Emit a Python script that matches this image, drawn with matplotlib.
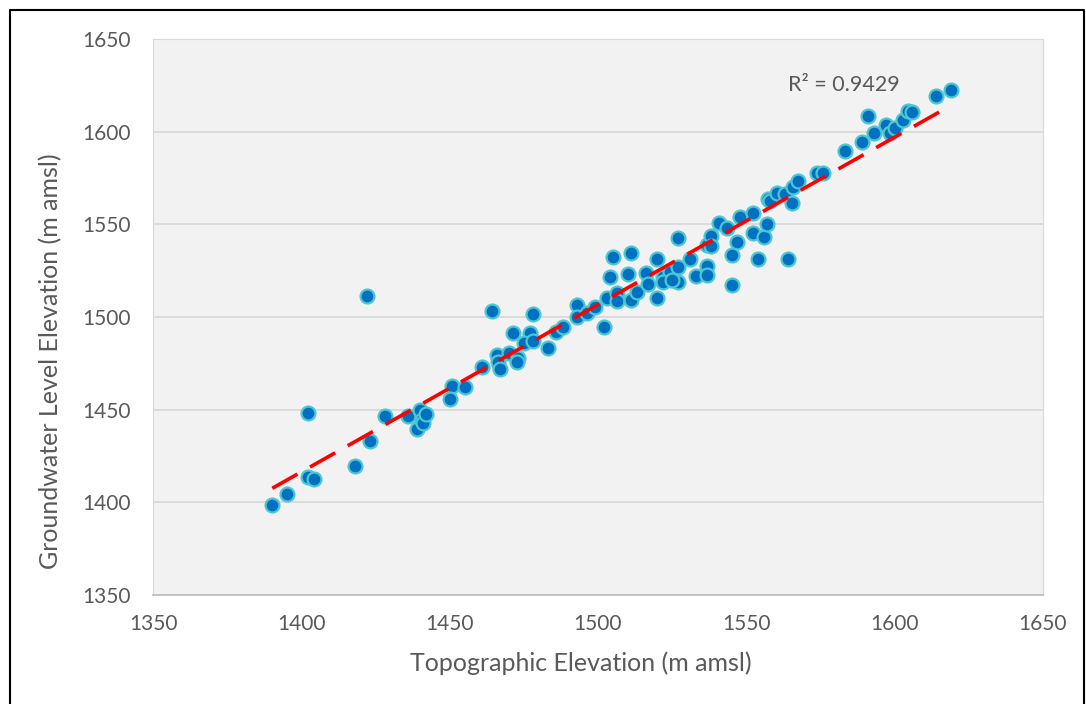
import numpy as np
import matplotlib.pyplot as plt
from matplotlib.lines import Line2D

plt.rcParams['font.family'] = ['Lato', 'DejaVu Sans']

# topographic elevation (m amsl)
topo = [1390.2, 1395.2, 1402.1, 1402.1, 1404.2, 1422.0, 1418.1, 1423.0, 1428.2, 1436.0,
        1439.9, 1439.0, 1440.6, 1441.1, 1442.1, 1450.7, 1450.1, 1455.2, 1461.0, 1464.2,
        1466.0, 1466.4, 1467.0, 1470.1, 1473.1, 1472.8, 1471.2, 1477.1, 1475.0, 1478.2,
        1478.2, 1483.0, 1485.8, 1488.3, 1492.8, 1492.8, 1496.2, 1499.0, 1502.1, 1502.9,
        1504.0, 1504.9, 1506.5, 1506.5, 1510.2, 1511.0, 1511.0, 1513.0, 1516.2, 1517.0,
        1520.0, 1520.0, 1522.0, 1524.3, 1527.1, 1527.1, 1527.1, 1521.8, 1524.8, 1531.0,
        1533.0, 1536.6, 1536.6, 1536.6, 1538.0, 1538.1, 1540.9, 1543.4, 1546.7, 1545.1,
        1545.1, 1547.9, 1552.1, 1552.1, 1554.0, 1555.9, 1556.8, 1557.4, 1558.0, 1560.2,
        1563.0, 1565.3, 1564.1, 1565.8, 1567.5, 1573.9, 1575.9, 1583.2, 1588.9, 1590.9,
        1593.0, 1597.1, 1598.4, 1600.1, 1602.9, 1604.6, 1605.7, 1613.9, 1618.9]

# groundwater level elevation (m amsl)
gwl = [1398.4, 1404.5, 1448.3, 1413.5, 1412.4, 1511.3, 1419.6, 1433.2, 1446.5, 1446.5,
       1449.8, 1439.4, 1444.4, 1442.9, 1447.6, 1462.7, 1455.6, 1462.4, 1473.2, 1503.4,
       1479.5, 1475.8, 1471.7, 1480.7, 1477.7, 1475.8, 1491.2, 1491.5, 1485.8, 1487.2,
       1501.4, 1483.4, 1492.0, 1494.4, 1506.5, 1500.1, 1502.0, 1505.4, 1494.4, 1510.1,
       1521.4, 1532.5, 1512.8, 1508.8, 1523.2, 1534.4, 1509.1, 1513.6, 1523.6, 1517.8,
       1531.1, 1510.2, 1521.7, 1524.4, 1527.1, 1519.0, 1542.4, 1519.0, 1519.9, 1531.1,
       1522.3, 1527.5, 1522.6, 1538.8, 1543.7, 1538.3, 1550.5, 1548.2, 1540.6, 1533.4,
       1517.2, 1553.8, 1556.3, 1545.5, 1531.3, 1543.0, 1550.2, 1563.5, 1562.7, 1566.7,
       1566.2, 1561.3, 1531.3, 1570.3, 1573.5, 1577.8, 1577.8, 1589.6, 1594.4, 1608.4,
       1599.4, 1603.4, 1599.4, 1601.8, 1606.3, 1611.3, 1610.8, 1619.4, 1622.5]

ticks = [1350, 1400, 1450, 1500, 1550, 1600, 1650]

fig = plt.figure(figsize=(10.86, 7.04), dpi=100)
ax = fig.add_axes([0.1409, 0.1548, 0.8195, 0.7898])
ax.set_facecolor('#f2f2f2')

ax.scatter(topo, gwl, s=100, c='#0070c0', edgecolors='#4cc6d2', linewidths=1.6, zorder=3)

# linear trendline
k, b = np.polyfit(topo, gwl, 1)
xs = np.array([min(topo), max(topo)])
ax.plot(xs, k * xs + b, color='#ff0000', lw=2.6, dashes=(8, 4), zorder=4)
ax.text(1583, 1625, 'R² = 0.9429', ha='center', va='center', fontsize=15.5, color='#595959')

ax.set_xlim(1350, 1650)
ax.set_ylim(1350, 1650)
ax.set_xticks(ticks)
ax.set_yticks(ticks)
ax.grid(axis='y', color='#d9d9d9', lw=1.3)
ax.set_axisbelow(True)
ax.tick_params(length=0, labelsize=15, labelcolor='#595959')
ax.tick_params(axis='y', pad=16)
ax.tick_params(axis='x', pad=14)
for s in ['left', 'top', 'right']:
    ax.spines[s].set_color('#d9d9d9')
ax.spines['bottom'].set_color('#bfbfbf')
ax.spines['bottom'].set_linewidth(1.3)

ax.set_xlabel('Topographic Elevation (m amsl)', fontsize=18, color='#595959', va='center')
ax.set_ylabel('Groundwater Level Elevation (m amsl)', fontsize=18, color='#595959', va='center')
ax.xaxis.set_label_coords(0.481, -0.122)
ax.yaxis.set_label_coords(-0.115, 0.421)

# outer frame
fx0, fx1, fy1 = 9.5 / 1086, 1084 / 1086, 1 - 10 / 704
fig.add_artist(Line2D([fx0, fx0, fx1, fx1], [0, fy1, fy1, 0], color='black', lw=1.5))

fig.savefig('out.png', dpi=100)
